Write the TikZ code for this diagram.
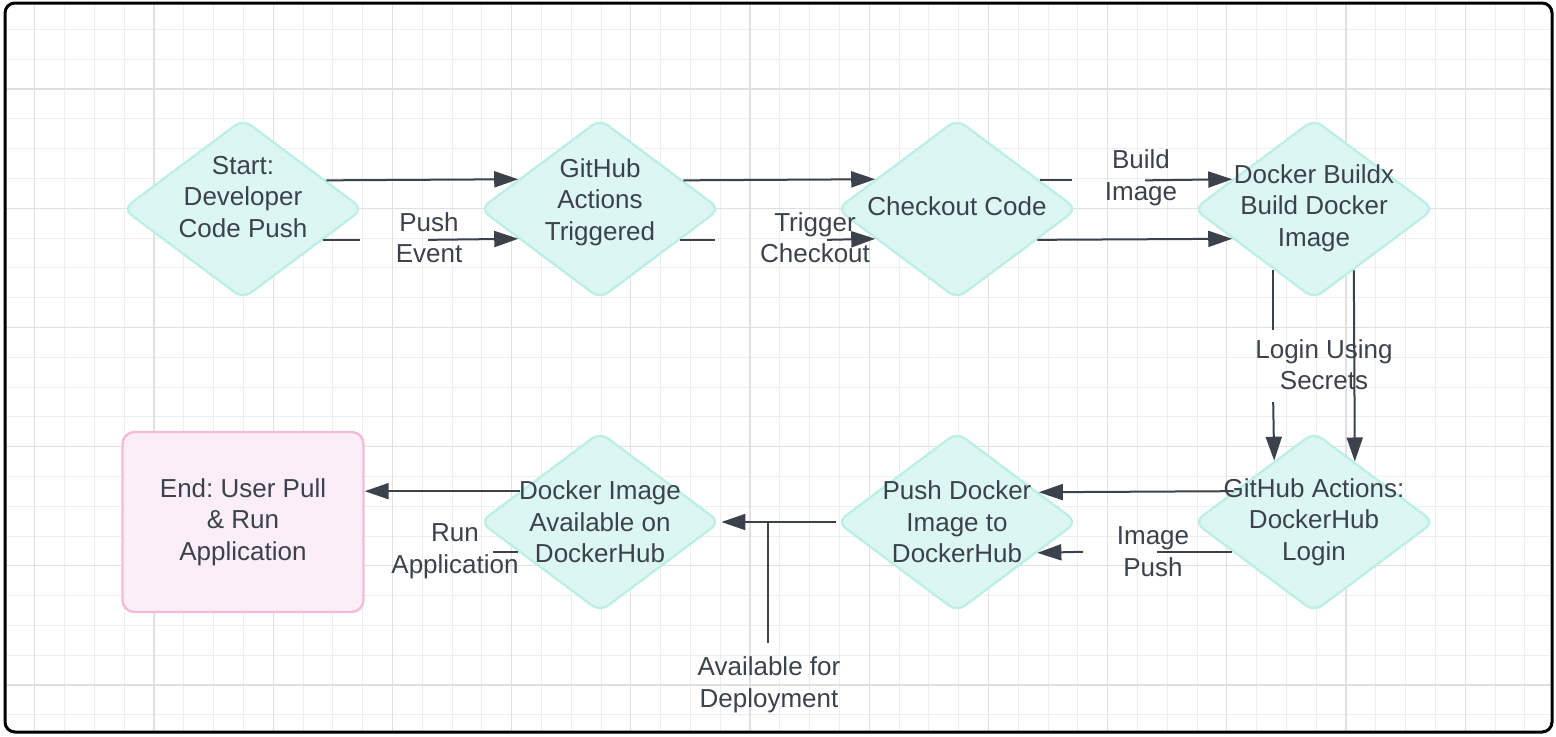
\documentclass[tikz,border=0pt]{standalone}
\usepackage{fontspec}
\setmainfont{Liberation Sans}
\usetikzlibrary{shapes.geometric, arrows.meta, positioning}
\frenchspacing

\definecolor{ink}{HTML}{3B424B}
\definecolor{diafill}{HTML}{DCF7F3}
\definecolor{diaedge}{HTML}{BDEFE6}
\definecolor{endfill}{HTML}{FCEEF8}
\definecolor{endedge}{HTML}{F4BBD6}
\definecolor{gridminor}{HTML}{EEEEEE}
\definecolor{gridmajor}{HTML}{E0E0E0}

\begin{document}
\begin{tikzpicture}[x=0.5pt, y=-0.5pt, node distance=178.5pt, on grid,
	font=\fontsize{13}{15.8}\selectfont, text=ink,
	dia/.style={diamond, draw=diaedge, fill=diafill, line width=1.2pt, rounded corners=5pt,
		minimum width=120.2pt, minimum height=90pt, inner sep=0pt},
	endbox/.style={rectangle, draw=endedge, fill=endfill, line width=1.2pt, rounded corners=6pt,
		minimum width=120.5pt, minimum height=90pt, align=center},
	txt/.style={align=center},
	flow/.style={draw=ink, line width=1pt},
	arr/.style={flow, -{Triangle[length=12pt, width=8pt]}}]
	\useasboundingbox (0,0) rectangle (1556,736);

	% background grid
	\begin{scope}
		\clip[rounded corners=5pt] (5,3) rectangle (1552,732);
		\foreach \k in {-5,...,47}
			\draw[gridminor, line width=0.5pt] ({154+29.8*\k},0) -- ({154+29.8*\k},736);
		\foreach \k in {-3,...,22}
			\draw[gridminor, line width=0.5pt] (0,{89+29.8*\k}) -- (1556,{89+29.8*\k});
		\foreach \k in {-1,...,11}
			\draw[gridmajor, line width=0.6pt] ({154+119.2*\k},0) -- ({154+119.2*\k},736);
		\foreach \k in {-1,...,5}
			\draw[gridmajor, line width=0.6pt] (0,{89+119.2*\k}) -- (1556,{89+119.2*\k});
	\end{scope}
	\draw[line width=1.5pt, rounded corners=5pt] (5,3) rectangle (1552,732);

	% steps
	\node[dia, label={[txt, yshift=6pt]center:{Start:\\Developer\\Code Push}}] (start) at (243,209) {};
	\node[dia, right=of start, label={[txt, yshift=3.5pt]center:{GitHub\\Actions\\Triggered}}] (trig) {};
	\node[dia, right=of trig, label={[txt, yshift=1.5pt]center:{Checkout Code}}] (check) {};
	\node[dia, right=of check, label={[txt, yshift=0.5pt]center:{Docker Buildx\\Build Docker\\Image}}] (build) {};
	\node[dia, below=156.5pt of build, label={[txt]center:{GitHub Actions:\\DockerHub\\Login}}] (login) {};
	\node[dia, left=of login, label={[txt]center:{Push Docker\\Image to\\DockerHub}}] (push) {};
	\node[dia, left=of push, label={[txt]center:{Docker Image\\Available on\\DockerHub}}] (avail) {};
	\node[endbox, left=of avail] (finish) {End: User Pull\\\& Run\\Application};

	% edge labels
	\node[txt] (pushev) at (429,237.5) {Push\\Event};
	\node[txt] (trigco) at (815,237.5) {Trigger\\Checkout};
	\node[txt] (buildim) at (1141,178) {Build\\Image};
	\node[txt] (logsec) at (1324,364.5) {Login Using\\Secrets};
	\node[txt] (imgpush) at (1153,551.5) {Image\\Push};
	\node[txt] (runapp) at (455,551.5) {Run\\Application};
	\node[txt] (deploy) at (769,685) {Available for\\Deployment};

	\coordinate (pe1) at (start.339.6 -| 360,0);
	\coordinate (pe2) at (start.339.6 -| 428,0);
	\coordinate (tc1) at (trig.339.6 -| 715,0);
	\coordinate (tc2) at (trig.339.6 -| 827,0);
	\coordinate (bi1) at (check.19.6 -| 1072,0);
	\coordinate (bi2) at (check.19.6 -| 1145,0);
	\coordinate (ls1) at (build.236.8 |- 0,330);
	\coordinate (ls2) at (build.236.8 |- 0,402);
	\coordinate (ip1) at (login.200.5 -| 1157,0);
	\coordinate (ip2) at (login.200.5 -| 1083,0);
	\coordinate (ra) at (avail.200.5 -| 493,0);
	\coordinate (dep) at (768,643);

	% connectors
	\draw[arr] (start.19.6) -- (trig.160.4);
	\draw[flow] (start.339.6) -- (pe1);
	\draw[arr] (pe2) -- (trig.200.4);
	\draw[arr] (trig.19.6) -- (check.160.4);
	\draw[flow] (trig.339.6) -- (tc1);
	\draw[arr] (tc2) -- (check.200.4);
	\draw[flow] (check.19.6) -- (bi1);
	\draw[arr] (bi2) -- (build.160.4);
	\draw[arr] (check.339.6) -- (build.200.4);
	\draw[flow] (build.236.8) -- (ls1);
	\draw[arr] (ls2) -- (login.123.2);
	\draw[arr] (build.303.2) -- (login.56.8);
	\draw[arr] (login.159.5) -- (push.20.5);
	\draw[flow] (login.200.5) -- (ip1);
	\draw[arr] (ip2) -- (push.339.5);
	\draw[arr] (push.west) -- (avail.east);
	\draw[flow] (dep) -- (dep |- avail.east);
	\draw[arr] (avail.159.5) -- (avail.159.5 -| finish.east);
	\draw[flow] (avail.200.5) -- (ra);
\end{tikzpicture}
\end{document}
